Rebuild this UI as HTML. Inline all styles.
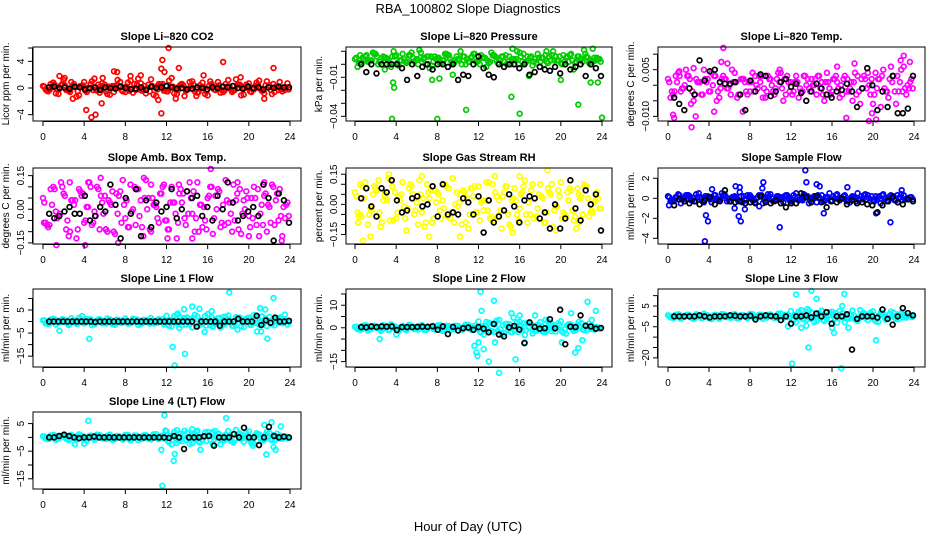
<!DOCTYPE html>
<html><head><meta charset="utf-8"><style>
body{margin:0;background:#fff}
svg{display:block;font-family:"Liberation Sans",Arial,sans-serif}
</style></head><body>
<svg id="chart" width="936" height="540" xmlns="http://www.w3.org/2000/svg">
<text x="468" y="13" font-size="13" text-anchor="middle">RBA_100802  Slope Diagnostics</text>
<text x="468" y="531" font-size="13" text-anchor="middle">Hour of Day (UTC)</text>
</svg>
<script>
// ---- data (values read approx. from reference) ----
const hourTicks=[0,4,8,12,16,20,24];
const co2A=[0.3,-0.5,0.8,-0.9,1.2,-0.4,0.6,-1.1,0.9,-0.2,1.4,-0.7,0.5,-1.0,0.2,0.9,-0.6,1.1,-0.3,0.7,-0.8,1.3,-1.2,0.4,-0.5,1.5,-0.9,0.6,-0.3,1.0,-0.7,0.8,-1.1,0.3,0.9,-0.6,1.2,-0.4,0.5,-1.0,0.7,-0.2,1.1,-0.8,0.4,-0.6,0.9,-0.3];
const co2B=[-0.2,0.6,-0.8,0.4,-0.3,0.9,-1.3,0.2,-0.6,1.0,-0.4,0.7,-0.9,0.3,1.2,-0.5,0.8,-0.7,1.4,-0.2,0.5,-1.0,0.6,-0.4,1.1,-0.8,0.3,-1.2,0.9,-0.5,0.4,-0.9,1.0,-0.3,-0.7,0.6,-0.2,1.3,-1.1,0.5,-0.6,0.8,-0.4,1.0,-0.9,0.2,-0.5,0.7];
const co2C=[0.2,-0.3,0.5,-0.1,0.4,-0.6,0.1,0.3,-0.4,0.6,-0.2,0.3,-0.5,0.1,0.4,-0.3,0.2,-0.1,0.5,-0.4,0.0,0.3,-0.2,0.6,-0.5,0.2,-0.3,0.4,-0.1,0.5,-0.6,0.1,0.3,-0.2,0.4,-0.4,0.2,-0.3,0.5,0.0,-0.5,0.3,-0.1,0.4,-0.3,0.2,-0.2,0.1];
const co2D=[-0.4,0.1,-0.2,0.6,-0.3,0.2,-0.5,0.4,0.0,-0.3,0.5,-0.1,0.2,-0.6,0.3,0.1,-0.4,0.6,-0.2,0.3,-0.5,0.1,0.4,-0.3,0.2,-0.1,0.5,-0.4,0.3,-0.2,0.1,-0.5,0.6,0.0,-0.3,0.2,-0.6,0.4,-0.1,0.3,-0.2,0.5,-0.4,0.1,0.6,-0.3,0.0,-0.2];
const co2Out=[[4.2,-3.3],[4.7,-4.4],[5.1,-4],[11.5,-3.8],[11.6,4.2],[12.2,6],[11.5,2.9],[11.8,2.4],[13.2,3],[17.5,3.9],[22.4,3],[15.6,1.9],[6.9,2.5],[7.2,2.4],[2.9,-1.6],[5.7,-2.3],[2.1,1.5],[9.5,1.9],[19.2,1.6],[21.5,-1.6],[12.9,-1.6],[11.2,-1.8],[5.8,1.5],[1.6,1.8],[8.5,1.8],[14.9,-1.2]];
const co2K=[0.1,0.2,0,0.1,-0.1,0.2,0.1,-0.2,0,0.1,-0.3,0.1,0,-0.1,0.2,0,-0.2,-0.1,0.1,-0.3,0.2,0,0.1,0.3,0.1,-0.1,0,-0.2,-0.1,0.1,0,-0.2,0.1,0,0.2,0.1,0.3,0,-0.1,0.2,0,0.1,-0.2,0.1,0,0.2,0.1,0.1];
const presA=[0.004,0.001,0.006,0.003,0.008,0.002,0.005,-0.002,0.007,0.003,0.001,0.009,0.004,0.002,0.006,-0.001,0.005,0.003,0.007,0.001,0.004,0.006,0.002,0.008,0.003,0.005,0.001,0.007,0.004,0.002,0.006,0.003,0.009,0.001,0.005,0.004,0.002,0.007,0.003,0.006,0.001,0.005,0.008,0.002,0.004,0.006,0.003,0.005];
const presB=[-0.002,0.005,0.002,0.009,0.000,0.006,0.003,0.010,-0.001,0.004,0.007,0.002,0.011,0.005,-0.003,0.006,0.001,0.008,0.004,0.003,0.010,0.000,0.005,0.002,0.007,-0.002,0.009,0.003,0.006,0.000,0.004,0.010,0.002,0.006,-0.001,0.008,0.005,0.001,0.010,0.003,0.007,0.002,-0.004,0.006,0.011,0.001,0.005,0.004];
const presC=[0.005,0.001,0.007,0.003,0.006,0.000,0.004,0.006,0.001,0.008,0.002,0.005,0.000,0.004,0.006,0.002,0.005,0.003,0.007,0.001,0.003,0.006,0.002,0.008,0.000,0.005,0.002,0.006,0.003,0.007,0.000,0.004,0.006,0.002,0.006,0.001,0.005,0.002,0.007,0.003,0.000,0.006,0.003,0.006,0.002,0.005,0.002,0.004];
const presD=[0.001,0.004,0.002,0.008,0.002,0.005,0.000,0.006,0.003,0.002,0.007,0.003,0.005,0.000,0.006,0.004,0.001,0.008,0.002,0.006,0.000,0.004,0.006,0.002,0.005,0.003,0.007,0.001,0.006,0.002,0.004,0.000,0.008,0.003,0.002,0.005,0.000,0.006,0.003,0.006,0.002,0.007,0.001,0.004,0.008,0.002,0.003,0.002];
const presOut=[[3.6,-0.042],[8,-0.042],[16,-0.038],[24,-0.041],[10.8,-0.035],[15.2,-0.025],[21.7,-0.031],[3.7,-0.014],[3.8,-0.018],[23.1,0.012],[15.3,0.012],[0.5,0.007],[6.4,0.009],[9.5,-0.008],[7.5,-0.012],[8.2,-0.011],[16.9,-0.009],[22.9,-0.014],[23.6,-0.014],[2.9,-0.004],[20,-0.012],[18.6,0.01]];
const presK=[0,-0.006,0,-0.007,0,0,0,0,-0.003,-0.012,0,-0.009,-0.002,0,-0.004,0,0,-0.002,0,-0.012,-0.008,-0.009,0,0.006,-0.003,-0.008,-0.01,0,-0.002,0,0,-0.003,0,-0.008,-0.006,-0.002,-0.004,-0.005,-0.002,-0.007,0,-0.004,-0.002,0,-0.009,0,-0.003,-0.009];
const tempA=[0.002,-0.003,0.004,-0.001,0.003,-0.005,0.001,0.005,-0.002,0.003,-0.004,0.002,0.000,0.004,-0.003,0.001,-0.002,0.003,0.001,-0.004,0.002,-0.001,0.004,-0.003,0.001,0.003,-0.002,0.000,0.002,-0.003,0.001,0.004,-0.002,0.001,-0.003,0.002,-0.005,0.003,-0.001,0.004,-0.006,0.002,0.005,-0.004,0.003,-0.002,0.006,-0.001];
const tempB=[-0.004,0.003,-0.002,0.005,-0.006,0.002,-0.003,0.001,0.004,-0.005,0.002,-0.001,0.005,-0.004,0.002,-0.003,0.004,-0.001,-0.004,0.003,-0.002,0.004,-0.005,0.001,-0.002,-0.004,0.003,-0.001,0.000,0.003,-0.005,-0.001,0.002,-0.004,0.003,-0.001,0.004,-0.006,0.002,-0.003,0.004,-0.007,-0.002,0.006,-0.006,0.005,-0.003,0.002];
const tempC=[0.001,-0.002,0.003,0.000,0.002,-0.003,0.001,0.002,-0.002,0.003,-0.001,0.002,-0.003,0.001,0.002,-0.002,0.001,0.000,0.003,-0.002,0.000,0.002,-0.001,0.003,-0.003,0.001,-0.002,0.002,0.000,0.003,-0.003,0.001,0.002,-0.001,0.002,-0.002,0.001,-0.002,0.003,0.000,-0.003,0.002,-0.001,0.002,-0.002,0.001,-0.001,0.001];
const tempD=[-0.002,0.001,-0.001,0.003,-0.002,0.001,-0.003,0.002,0.000,-0.002,0.003,-0.001,0.001,-0.003,0.002,0.001,-0.002,0.003,-0.001,0.002,-0.003,0.001,0.002,-0.002,0.001,-0.001,0.003,-0.002,0.002,-0.001,0.001,-0.003,0.003,0.000,-0.002,0.001,-0.003,0.002,-0.001,0.002,-0.001,0.003,-0.002,0.001,0.003,-0.002,0.000,-0.001];
const tempOut=[[0.5,-0.0095],[0.6,-0.0105],[2.3,-0.0135],[5.4,0.012],[5.2,0.0075],[5.8,0.007],[22.7,0.008],[23,0.0095],[23.6,0.0075],[19.6,-0.0115],[17.4,-0.0105],[20.3,-0.0110],[19.9,-0.009],[4.5,-0.0085],[7.3,-0.0085],[2.7,-0.010],[16.5,0.006],[18.2,0.007],[10.9,0.005],[2.5,0.0055],[1.1,0.0045]];
const tempK=[-0.004,-0.006,-0.008,-0.001,-0.003,0.008,0.0015,0.0045,0.005,0.001,0.0005,0.0005,0.001,-0.003,-0.008,0.0015,-0.002,0.0035,0.003,-0.0035,-0.002,0.001,0.002,-0.0005,0.0005,-0.0025,-0.005,-0.002,0.0005,-0.001,-0.003,-0.004,-0.002,-0.0015,0.0005,-0.002,-0.007,-0.001,0.0055,0.000,-0.008,-0.002,-0.007,0.003,-0.009,-0.009,-0.0075,0.003];
const ambA=[0.05,-0.08,0.10,-0.03,0.07,-0.12,0.02,0.09,-0.06,0.12,-0.01,-0.09,0.06,0.03,-0.11,0.08,-0.04,0.11,-0.07,0.04,0.13,-0.10,0.01,0.07,-0.05,0.10,-0.13,0.03,0.08,-0.02,0.12,-0.08,0.05,-0.11,0.09,0.02,-0.06,0.11,-0.09,0.04,-0.03,0.10,-0.12,0.06,0.01,-0.07,0.09,-0.04];
const ambB=[-0.06,0.09,-0.01,0.12,-0.09,0.04,-0.13,0.06,0.01,-0.07,0.10,0.03,-0.10,0.08,-0.02,0.13,-0.08,0.00,0.09,-0.12,0.05,0.02,-0.06,0.11,-0.09,0.03,0.07,-0.04,0.12,-0.10,0.02,-0.05,0.10,0.06,-0.08,0.13,-0.02,0.04,-0.11,0.08,0.05,-0.07,0.02,-0.10,0.11,0.07,-0.12,0.03];
const ambC=[0.03,-0.07,0.09,-0.02,0.06,-0.10,0.04,0.08,-0.05,0.10,-0.03,0.06,-0.09,0.02,0.07,-0.06,0.04,-0.01,0.09,-0.08,0.00,0.05,-0.04,0.10,-0.09,0.03,-0.06,0.07,-0.02,0.08,-0.10,0.01,0.06,-0.04,0.08,-0.07,0.03,-0.05,0.09,0.00,-0.08,0.05,-0.02,0.07,-0.06,0.04,-0.03,0.02];
const ambD=[-0.07,0.02,-0.04,0.10,-0.05,0.04,-0.09,0.07,0.01,-0.06,0.09,-0.02,0.04,-0.10,0.06,0.02,-0.08,0.10,-0.03,0.05,-0.09,0.02,0.07,-0.05,0.03,-0.02,0.09,-0.07,0.05,-0.04,0.02,-0.09,0.10,0.00,-0.06,0.04,-0.10,0.07,-0.02,0.05,-0.04,0.09,-0.07,0.02,0.10,-0.05,0.01,-0.03];
const ambOut=[[1.3,-0.16],[0.1,-0.06],[4.1,-0.16],[5.6,0.14],[4.4,0.12],[9.8,0.14],[16.3,0.18],[12.1,-0.13],[14.5,-0.13],[20,-0.12],[23.2,-0.14],[2.6,0.12],[7.3,-0.15],[21.5,0.12],[6.1,-0.09],[13.2,0.11],[18.9,0.12],[10.5,0.11]];
const ambK=[-0.02,-0.04,-0.03,-0.01,0.01,-0.02,-0.02,0.06,-0.05,-0.03,0.01,-0.01,0.11,0.02,-0.13,0.05,-0.02,0.09,-0.12,0.04,-0.08,0.03,-0.01,0.01,0.09,-0.04,0.00,0.08,0.05,0.06,-0.03,0.01,-0.05,0.06,0.00,0.12,0.03,-0.05,-0.03,-0.01,0.01,-0.03,0.11,0.05,-0.14,0.07,0.04,-0.06];
const rhA=[0.06,-0.05,0.11,-0.02,0.08,-0.11,0.03,0.12,-0.07,0.05,-0.13,0.09,0.01,-0.04,0.10,-0.09,0.06,0.02,-0.06,0.13,-0.01,0.07,-0.12,0.04,0.09,-0.03,0.11,-0.08,0.02,0.06,-0.10,0.08,-0.02,0.12,-0.05,0.03,0.10,-0.09,0.05,-0.01,0.11,-0.06,0.07,-0.12,0.04,0.09,-0.03,0.06];
const rhB=[-0.04,0.09,-0.10,0.05,-0.06,0.02,0.13,-0.08,0.04,-0.01,0.08,-0.05,0.12,-0.11,0.03,0.07,-0.03,0.10,-0.07,0.00,0.05,-0.09,0.08,-0.04,0.01,0.11,-0.06,0.04,-0.12,0.09,0.02,-0.05,0.06,-0.09,0.10,-0.02,0.03,0.08,-0.11,0.07,-0.04,0.02,-0.08,0.05,0.10,-0.06,0.01,-0.02];
const rhC=[0.04,-0.06,0.08,-0.03,0.07,-0.09,0.02,0.09,-0.04,0.11,-0.02,0.05,-0.10,0.03,0.06,-0.07,0.05,-0.02,0.08,-0.09,0.01,0.06,-0.05,0.09,-0.08,0.02,-0.07,0.06,-0.03,0.09,-0.11,0.02,0.05,-0.05,0.07,-0.06,0.04,-0.04,0.10,-0.01,-0.07,0.06,-0.03,0.08,-0.05,0.03,-0.04,0.03];
const rhD=[-0.06,0.03,-0.05,0.09,-0.04,0.05,-0.08,0.06,0.02,-0.07,0.10,-0.03,0.05,-0.09,0.07,0.01,-0.07,0.09,-0.04,0.06,-0.10,0.03,0.08,-0.04,0.02,-0.03,0.10,-0.06,0.04,-0.05,0.03,-0.08,0.09,0.01,-0.07,0.05,-0.09,0.06,-0.03,0.04,-0.05,0.08,-0.06,0.03,0.09,-0.04,0.02,-0.02];
const rhOut=[[0.8,-0.18],[1.5,-0.16],[7.2,-0.16],[10.2,-0.16],[0.3,-0.09],[3.3,0.15],[18.7,0.17],[16,0.14],[9.5,0.13],[6.5,0.14],[15.3,-0.14],[19.5,-0.13],[21.8,-0.09],[13.6,0.14],[0.5,0.10],[2.3,0.12]];
const rhK=[0.03,0.08,-0.01,-0.06,0.08,0.06,0.12,0.02,-0.04,-0.03,0.03,0.04,-0.01,0.00,0.09,-0.06,0.10,-0.05,-0.04,-0.05,0.03,0.01,-0.05,0.04,-0.14,0.02,-0.09,-0.06,-0.03,0.05,-0.01,-0.09,0.02,0.04,0.03,-0.07,-0.04,-0.12,0.00,-0.12,-0.07,0.12,-0.02,-0.08,0.07,0.00,0.05,-0.13];
const flowA=[0.2,-0.3,0.4,-0.1,0.3,0.0,0.5,-0.4,0.1,0.3,-0.2,0.4,-0.3,0.2,0.6,-0.1,0.3,-0.4,0.2,0.0,0.4,-0.2,0.1,0.3,-0.3,0.5,-0.1,0.2,0.0,-0.4,0.3,0.1,-0.2,0.4,0.0,-0.3,0.2,0.5,-0.1,0.3,-0.2,0.1,0.4,-0.3,0.2,0.0,0.3,-0.1];
const flowB=[-0.3,0.1,-0.5,0.3,-0.2,0.4,-0.1,0.2,-0.4,0.0,0.5,-0.3,0.1,-0.1,-0.4,0.3,-0.2,0.1,-0.5,0.4,-0.3,0.2,-0.4,0.0,0.3,-0.2,0.4,-0.5,0.2,0.1,-0.3,0.5,0.0,-0.2,0.3,-0.4,0.1,-0.1,0.4,-0.3,0.2,-0.5,0.0,0.3,-0.2,0.4,-0.1,0.1];
const flowC=[0.1,-0.2,0.3,0.0,0.2,-0.3,0.1,0.2,-0.1,0.3,-0.1,0.2,-0.3,0.1,0.2,-0.2,0.1,0.0,0.3,-0.2,0.0,0.2,-0.1,0.3,-0.3,0.1,-0.2,0.2,0.0,0.3,-0.3,0.1,0.2,-0.1,0.2,-0.2,0.1,-0.2,0.3,0.0,-0.3,0.2,-0.1,0.2,-0.2,0.1,-0.1,0.1];
const flowD=[-0.2,0.1,-0.1,0.3,-0.2,0.1,-0.3,0.2,0.0,-0.2,0.3,-0.1,0.1,-0.3,0.2,0.1,-0.2,0.3,-0.1,0.2,-0.3,0.1,0.2,-0.2,0.1,-0.1,0.3,-0.2,0.2,-0.1,0.1,-0.3,0.3,0.0,-0.2,0.1,-0.3,0.2,-0.1,0.2,-0.1,0.3,-0.2,0.1,0.3,-0.2,0.0,-0.1];
const flowOut=[[3.6,-4.3],[3.7,-1.7],[3.9,-2.3],[6.9,-1.8],[7.1,-2.3],[7.5,-1.1],[6.5,-1.0],[6.6,1.2],[7.0,1.1],[9.3,1.6],[9.2,1.0],[10.9,-2.9],[13.4,2.8],[13.5,1.6],[14.5,1.4],[14.8,1.2],[15.2,-1.5],[17.5,1.1],[21.7,-2.4],[22.8,0.8],[20.3,-1.5],[4.3,0.9],[0.1,-0.7],[8.9,-0.8]];
const flowK=[-0.7,-0.1,-0.3,-0.5,-0.3,-0.6,-0.2,0.1,-0.6,-0.3,0.8,-0.3,-0.4,-0.3,-0.5,-0.4,-0.5,0.2,-0.4,-0.5,-0.2,-0.5,-0.9,-0.5,-0.5,0.5,0.1,-0.4,0.2,-0.4,-0.9,-0.3,-0.4,0.0,-0.6,-0.2,-0.5,-0.4,-0.6,-0.7,-1.4,-0.7,-0.3,0.1,-0.4,-0.6,-0.1,-0.3];
const l1A=[0.5,-1.0,1.2,-0.4,0.8,-1.5,0.3,1.6,-0.8,0.6,-1.2,1.0,-0.3,0.9,-1.4,0.4,1.3,-0.7,0.2,-1.1,0.7,1.5,-0.6,0.1,2.5,-2.0,3.0,-1.5,1.8,-2.5,2.2,-1.0,3.2,-2.2,1.4,-0.8,2.6,-1.8,0.9,-2.4,1.7,2.8,-1.3,0.6,2.0,-1.6,1.1,0.4];
const l1B=[-0.8,0.9,-1.3,0.6,-0.5,1.4,-1.0,0.2,1.1,-1.6,0.5,-0.7,1.3,-1.1,0.8,-0.2,-0.9,1.2,-1.4,0.7,-0.3,-0.8,1.0,-1.2,-1.8,2.3,-2.8,1.5,-1.2,2.9,-0.9,2.4,-1.7,1.0,-2.6,2.1,-0.5,1.9,-2.1,1.3,-1.5,-0.6,2.2,-1.9,-1.1,1.6,-0.7,-1.3];
const l1C=[0.5,-0.8,1.0,-0.2,0.7,-1.0,0.3,0.8,-0.5,1.0,-0.3,0.6,-0.9,0.2,0.7,-0.6,0.4,-0.1,0.9,-0.8,0.0,0.5,-0.4,1.0,-1.5,0.6,-1.2,1.4,-0.4,1.6,-1.8,0.3,1.2,-0.9,1.5,-1.3,0.6,-1.0,1.7,0.0,-1.4,1.0,-0.5,1.3,-0.8,0.6,-0.4,0.3];
const l1D=[-0.7,0.2,-0.4,1.0,-0.5,0.4,-0.9,0.7,0.1,-0.6,0.9,-0.2,0.4,-1.0,0.6,0.2,-0.8,1.0,-0.3,0.5,-0.9,0.2,0.7,-0.5,0.6,-0.4,1.7,-1.3,1.0,-0.8,0.4,-1.7,1.8,0.0,-1.1,0.8,-1.8,1.3,-0.4,1.0,-0.8,1.6,-1.2,0.4,1.1,-0.6,0.2,-0.3];
const l1Out=[[1.6,-4],[3.8,2.4],[4.5,-7.5],[12.6,-11],[12.8,-19],[13.1,3.5],[13.7,5.3],[13.8,-14],[14.5,6.5],[15.2,5.5],[15.7,-4.5],[16.4,4.5],[18.1,12.6],[20.8,-4.3],[21.1,5.8],[21.2,-4.3],[21.8,-7.4],[21.6,5.2],[22.4,10.2],[23.5,3.0],[23.1,1.8],[17.5,2.0],[18.9,-3.5]];
const l1K=[0,0,0,0,0,0,0,0,0,0,-0.2,0,0,0,0,0,0,0,0,0,0,0,0,0,0,0,0,0,0,0,0,0,-2.2,0,0,0,0,-1.8,0,0,0,1.2,0,0,0,2.5,-1.5,0.5,-0.5,1.7,0,0,0.3];
const l2A=[0.4,-0.8,1.1,-0.5,0.7,-1.3,0.2,1.5,-0.9,0.5,-1.1,0.8,-0.2,1.2,-0.7,0.3,1.0,-1.4,0.6,-0.4,0.9,-0.6,1.3,0.1,2.8,-3.0,2.2,-1.8,3.5,-2.4,1.6,-1.2,2.7,-3.2,1.9,-0.9,2.5,-2.0,1.2,-1.6,2.9,-2.6,1.4,-0.8,2.0,-1.2,0.9,0.3];
const l2B=[-0.6,0.9,-1.2,0.4,-0.3,1.1,-0.9,0.6,-1.4,0.2,1.3,-0.5,0.8,-1.0,0.3,-0.7,1.2,-0.2,-1.1,0.9,-0.4,1.4,-0.8,-0.5,-2.2,2.6,-1.5,3.1,-2.8,1.7,-2.0,2.4,-1.1,2.2,-2.5,1.3,-1.7,2.9,-0.6,2.0,-2.2,1.5,-1.4,2.6,-1.0,1.8,-0.8,-0.4];
const l2C=[0.4,-0.7,0.9,-0.3,0.6,-0.9,0.2,0.7,-0.4,0.9,-0.2,0.5,-0.8,0.3,0.6,-0.5,0.3,-0.2,0.8,-0.7,0.1,0.4,-0.3,0.9,-1.6,0.7,-1.3,1.5,-0.5,1.7,-1.9,0.4,1.3,-1.0,1.6,-1.4,0.7,-1.1,1.8,0.1,-1.5,1.1,-0.6,1.2,-0.7,0.5,-0.3,0.2];
const l2D=[-0.6,0.3,-0.5,0.9,-0.4,0.5,-0.8,0.6,0.2,-0.7,0.8,-0.3,0.5,-0.9,0.5,0.1,-0.7,0.9,-0.4,0.6,-0.8,0.3,0.6,-0.4,0.7,-0.5,1.8,-1.4,1.1,-0.9,0.5,-1.8,1.9,0.1,-1.2,0.9,-1.9,1.4,-0.5,1.1,-0.7,1.5,-1.1,0.3,1.0,-0.5,0.3,-0.2];
const l2Out=[[2.4,-5],[4,-3],[11.6,-8],[11.8,-11],[11.9,-12.5],[12,-6.5],[12.2,16],[12.3,7.5],[12.5,-9.5],[13.0,-15],[13.5,12],[13.6,-6.5],[14,-20],[14.3,-3],[15.2,6.5],[15.4,4.5],[15.6,-14],[16.0,5.5],[16.5,-6.5],[17.5,5.5],[20.1,-6.5],[21,6.5],[21.4,-11],[21.7,-9],[22.1,-5.5],[22.6,11.5],[23.0,3.5],[23.4,7.5],[18.5,3.5],[19.1,-1.5]];
const l2K=[0.3,0.2,0.6,0.3,0.6,0.5,0.6,-1.0,0.3,0.3,0.3,0.4,0.5,0.4,0.7,-0.9,0.6,-2.8,0.4,-1.2,-0.2,0.1,-0.9,0.3,-0.4,-2.0,1.7,-3.0,-3.8,0.2,0.8,-0.8,-6.8,2.4,0.4,-0.4,-0.2,3.8,-0.2,8.0,-7.3,0.5,0.3,5.5,0.9,0.6,-0.4,-0.1];
const l3A=[0.5,-0.7,1.0,-0.3,0.8,-1.2,0.4,1.3,-0.9,0.6,-1.1,0.9,-0.2,1.1,-0.6,0.3,1.2,-1.3,0.7,-0.5,0.9,-0.8,1.4,0.2,2.5,-2.8,3.0,-1.6,1.9,-2.3,2.8,-1.1,2.2,-3.0,1.6,-1.0,2.7,-2.2,1.5,-1.8,2.4,-2.6,1.3,-0.9,1.8,-1.3,0.8,0.4];
const l3B=[-0.5,0.8,-1.1,0.5,-0.6,1.0,-0.8,0.3,-1.3,0.6,1.1,-0.4,0.7,-1.0,0.2,-0.9,1.0,-0.3,-1.2,0.8,-0.5,1.3,-0.7,-0.4,-2.0,2.2,-1.4,2.7,-2.6,1.5,-2.2,2.0,-0.9,2.6,-2.8,1.1,-1.5,3.0,-0.7,1.8,-2.4,1.7,-1.6,2.3,-1.1,1.5,-0.6,-0.2];
const l3C=[0.3,-0.6,0.8,-0.2,0.5,-0.9,0.3,0.6,-0.5,0.8,-0.3,0.5,-0.7,0.2,0.6,-0.4,0.2,-0.1,0.7,-0.6,0.0,0.4,-0.3,0.8,-1.4,0.5,-1.1,1.3,-0.3,1.5,-1.6,0.2,1.1,-0.8,1.4,-1.2,0.5,-0.9,1.6,0.0,-1.3,0.9,-0.4,1.1,-0.6,0.4,-0.3,0.2];
const l3D=[-0.5,0.2,-0.3,0.8,-0.4,0.3,-0.7,0.5,0.1,-0.5,0.7,-0.2,0.3,-0.8,0.5,0.2,-0.6,0.8,-0.2,0.4,-0.7,0.2,0.6,-0.4,0.5,-0.3,1.5,-1.2,0.9,-0.7,0.3,-1.5,1.6,0.0,-1.0,0.7,-1.6,1.2,-0.3,0.9,-0.6,1.3,-1.0,0.3,0.9,-0.5,0.2,-0.2];
const l3Out=[[11.7,-4.8],[12.1,-22.8],[12.5,10.5],[13,-5.5],[13.5,-4.5],[13.7,-15],[14.0,12.3],[14.5,8.5],[16.0,-5.5],[16.2,-8.0],[16.9,-25],[17.2,10.8],[17.6,-5.5],[20.3,-11.5],[17.0,5],[13.6,3.5],[15.0,2.5]];
const l3K=[0,0,0,0,0,0.5,0,-0.5,0,0,0,0.5,0.3,0,0,0.3,-1.5,0,0.5,0.2,0,-1.8,0,-3.5,0,0,0.5,-0.5,1.4,0,2.0,-3.5,0,0,1.0,-16,-1.2,0,0,0,-0.6,3.3,-1.2,-4.0,0,4.0,1.6,0.5];
const l4A=[0.4,-0.6,0.9,-0.3,0.7,-1.0,0.3,1.1,-0.8,0.5,-0.9,0.8,-0.2,1.0,-0.5,0.2,0.9,-1.1,0.6,-0.4,0.8,-0.7,1.2,0.1,2.2,-2.5,2.6,-1.4,1.7,-2.1,2.4,-1.0,2.0,-2.6,1.4,-0.9,2.3,-1.9,1.3,-1.6,2.1,-2.3,1.1,-0.8,1.6,-1.1,0.7,0.3];
const l4B=[-0.4,0.7,-0.9,0.4,-0.5,0.9,-0.7,0.2,-1.1,0.5,1.0,-0.3,0.6,-0.9,0.2,-0.8,0.9,-0.2,-1.0,0.7,-0.4,1.1,-0.6,-0.3,-1.8,2.0,-1.2,2.4,-2.3,1.3,-1.9,1.8,-0.8,2.3,-2.5,1.0,-1.3,2.7,-0.6,1.6,-2.1,1.5,-1.4,2.0,-1.0,1.3,-0.5,-0.2];
const l4C=[0.3,-0.5,0.7,-0.2,0.5,-0.7,0.2,0.6,-0.4,0.7,-0.2,0.4,-0.6,0.2,0.5,-0.4,0.3,-0.1,0.6,-0.5,0.0,0.4,-0.3,0.7,-1.2,0.5,-1.0,1.1,-0.3,1.3,-1.4,0.2,1.0,-0.7,1.2,-1.0,0.5,-0.8,1.4,0.0,-1.1,0.8,-0.4,1.0,-0.6,0.4,-0.3,0.2];
const l4D=[-0.5,0.2,-0.3,0.7,-0.4,0.3,-0.6,0.5,0.1,-0.4,0.6,-0.2,0.3,-0.7,0.4,0.1,-0.6,0.7,-0.2,0.4,-0.6,0.2,0.5,-0.3,0.5,-0.3,1.3,-1.0,0.8,-0.6,0.3,-1.3,1.4,0.0,-0.9,0.6,-1.4,1.0,-0.3,0.8,-0.6,1.2,-0.9,0.3,0.8,-0.4,0.2,-0.2];
const l4Out=[[3.1,-2.5],[4.4,6.0],[4,-2.3],[11.5,-4.5],[11.6,-17.5],[11.8,8.0],[11.9,2.5],[12.5,-2.5],[12.7,-8.5],[12.8,-6.0],[14.5,3.0],[14.9,2.0],[15.3,-4.5],[16.5,2.0],[17.8,7.0],[20.4,-3.0],[21.5,4.5],[21.7,-6.2],[22.2,5.5],[22.4,-3.5],[22.6,-4.5],[23.1,4.0],[13.0,-2.0]];
const l4K=[0,0,0.5,1,0.5,0,-0.3,0,0,0.3,0,0,0,0,0,0,0,0,0,0,0,0,0,0,-0.2,0.5,0,-4.2,0,0,0,0.4,0.5,-3.0,0,0,0,1.2,0,3.5,0,0,-2.8,0,3.8,0.5,0,0.3,0];

const panels=[
 {t:"Slope Li\u2013820 CO2",yt:"Licor ppm per min.",c:"#f00",s:[co2A,co2B,co2C,co2D],o:co2Out,k:co2K,ylo:-4.95,yhi:6.15,ticks:[-4,-2,0,2,4,6],lab:[-4,0,4],fmt:v=>String(v)},
 {t:"Slope Li\u2013820 Pressure",yt:"kPa per min.",c:"#0c0",s:[presA,presB,presC,presD],o:presOut,k:presK,ylo:-0.0436,yhi:0.0133,ticks:[-0.04,-0.03,-0.02,-0.01,0,0.01],lab:[-0.04,-0.01],fmt:v=>v.toFixed(2)},
 {t:"Slope Li\u2013820 Temp.",yt:"degrees C per min.",c:"#f0f",s:[tempA,tempB,tempC,tempD],o:tempOut,k:tempK,ylo:-0.0115,yhi:0.0123,ticks:[-0.01,-0.005,0,0.005,0.01],lab:[-0.01,0.005],fmt:v=>v.toFixed(3)},
 {t:"Slope Amb. Box Temp.",yt:"degrees C per min.",c:"#f0f",s:[ambA,ambB,ambC,ambD],o:ambOut,k:ambK,ylo:-0.155,yhi:0.184,ticks:[-0.15,-0.1,-0.05,0,0.05,0.1,0.15],lab:[-0.15,0,0.15],fmt:v=>v.toFixed(2)},
 {t:"Slope Gas Stream RH",yt:"percent per min.",c:"#ff0",s:[rhA,rhB,rhC,rhD],o:rhOut,k:rhK,ylo:-0.197,yhi:0.181,ticks:[-0.15,-0.1,-0.05,0,0.05,0.1,0.15],lab:[-0.15,0,0.15],fmt:v=>v.toFixed(2)},
 {t:"Slope Sample Flow",yt:"ml/min per min.",c:"#00f",s:[flowA,flowB,flowC,flowD],o:flowOut,k:flowK,ylo:-4.57,yhi:3.03,ticks:[-4,-2,0,2],lab:[-4,-2,0,2],fmt:v=>String(v)},
 {t:"Slope Line 1 Flow",yt:"ml/min per min.",c:"#0ff",s:[l1A,l1B,l1C,l1D],o:l1Out,k:l1K,ylo:-19.7,yhi:14.1,ticks:[-15,-10,-5,0,5,10],lab:[-15,-5,5],fmt:v=>String(v)},
 {t:"Slope Line 2 Flow",yt:"ml/min per min.",c:"#0ff",s:[l2A,l2B,l2C,l2D],o:l2Out,k:l2K,ylo:-17.4,yhi:17.2,ticks:[-15,-10,-5,0,5,10,15],lab:[-15,0,10],fmt:v=>String(v)},
 {t:"Slope Line 3 Flow",yt:"ml/min per min.",c:"#0ff",s:[l3A,l3B,l3C,l3D],o:l3Out,k:l3K,ylo:-24.4,yhi:13.2,ticks:[-20,-15,-10,-5,0,5,10],lab:[-20,-5,5],fmt:v=>String(v)},
 {t:"Slope Line 4 (LT) Flow",yt:"ml/min per min.",c:"#0ff",s:[l4A,l4B,l4C,l4D],o:l4Out,k:l4K,ylo:-18.7,yhi:9.2,ticks:[-15,-10,-5,0,5],lab:[-15,-5,5],fmt:v=>String(v)}
];
const offsets=[0,0.5,0.25,0.75];
const colL=[33,346,658],colR=[301,612,925],colX0=[43,355,668],colX24=[290,602,914];
const rowT=[47,168,289,412],rowB=[121,244,367,489];
const svg=document.getElementById('chart');
const NS='http://www.w3.org/2000/svg';
function mk(tag,at,parent){const e=document.createElementNS(NS,tag);for(const k in at)e.setAttribute(k,at[k]);(parent||svg).appendChild(e);return e;}
function fmtNeg(s){return s.replace('-','\u2212');}
panels.forEach((p,i)=>{
 const col=i%3,row=Math.floor(i/3);
 const L=colL[col],R=colR[col],T=rowT[row],B=rowB[row];
 const xs=h=>colX0[col]+(colX24[col]-colX0[col])*h/24;
 const ys=v=>B-(v-p.ylo)/(p.yhi-p.ylo)*(B-T);
 const g=mk('g',{});
 
 
 const tt=mk('text',{x:(L+R)/2,y:T-7,'font-size':11,'font-weight':'bold','text-anchor':'middle'},g);tt.textContent=p.t;
 
 
 const ay=mk('text',{x:0,y:0,'font-size':10,'text-anchor':'middle',transform:`translate(${L-24},${(T+B)/2}) rotate(-90)`},g);ay.textContent=p.yt;
 
 
 const pts=mk('g',{fill:'none','stroke-width':1.7},g);
 
 
 const dot=(h,v,c)=>{const e=mk('circle',{cx:xs(h),cy:ys(v),r:2.4,stroke:c},pts);
  
  };
 p.s.forEach((arr,si)=>arr.forEach((v,j)=>dot((j+offsets[si])*24/arr.length,v,p.c)));
 p.o.forEach(q=>dot(q[0],q[1],p.c));
 p.k.forEach((v,j)=>dot(0.6+j*23.3/(p.k.length-1),v,'#000'));
 const bx=mk('rect',{x:L,y:T,width:R-L,height:B-T,fill:'none',stroke:'#000','stroke-width':1},g);
 
 
 mk('line',{x1:xs(0),x2:xs(24),y1:B+0.5,y2:B+0.5,stroke:'#000'},g);
 hourTicks.forEach(h=>{mk('line',{x1:xs(h),x2:xs(h),y1:B,y2:B+5,stroke:'#000'},g);
  const t=mk('text',{x:xs(h),y:B+19,'font-size':10,'text-anchor':'middle'},g);t.textContent=h;
  
  });
 mk('line',{x1:L-0.5,x2:L-0.5,y1:ys(p.ticks[0]),y2:ys(p.ticks[p.ticks.length-1]),stroke:'#000'},g);
 p.ticks.forEach(v=>mk('line',{x1:L-5,x2:L,y1:ys(v),y2:ys(v),stroke:'#000'},g));
 p.lab.forEach(v=>{const t=mk('text',{x:0,y:0,'font-size':10,'text-anchor':'middle',transform:`translate(${L-9},${ys(v)}) rotate(-90)`},g);
  t.textContent=fmtNeg(p.fmt(v));
  
  });
});
</script>
</body></html>
